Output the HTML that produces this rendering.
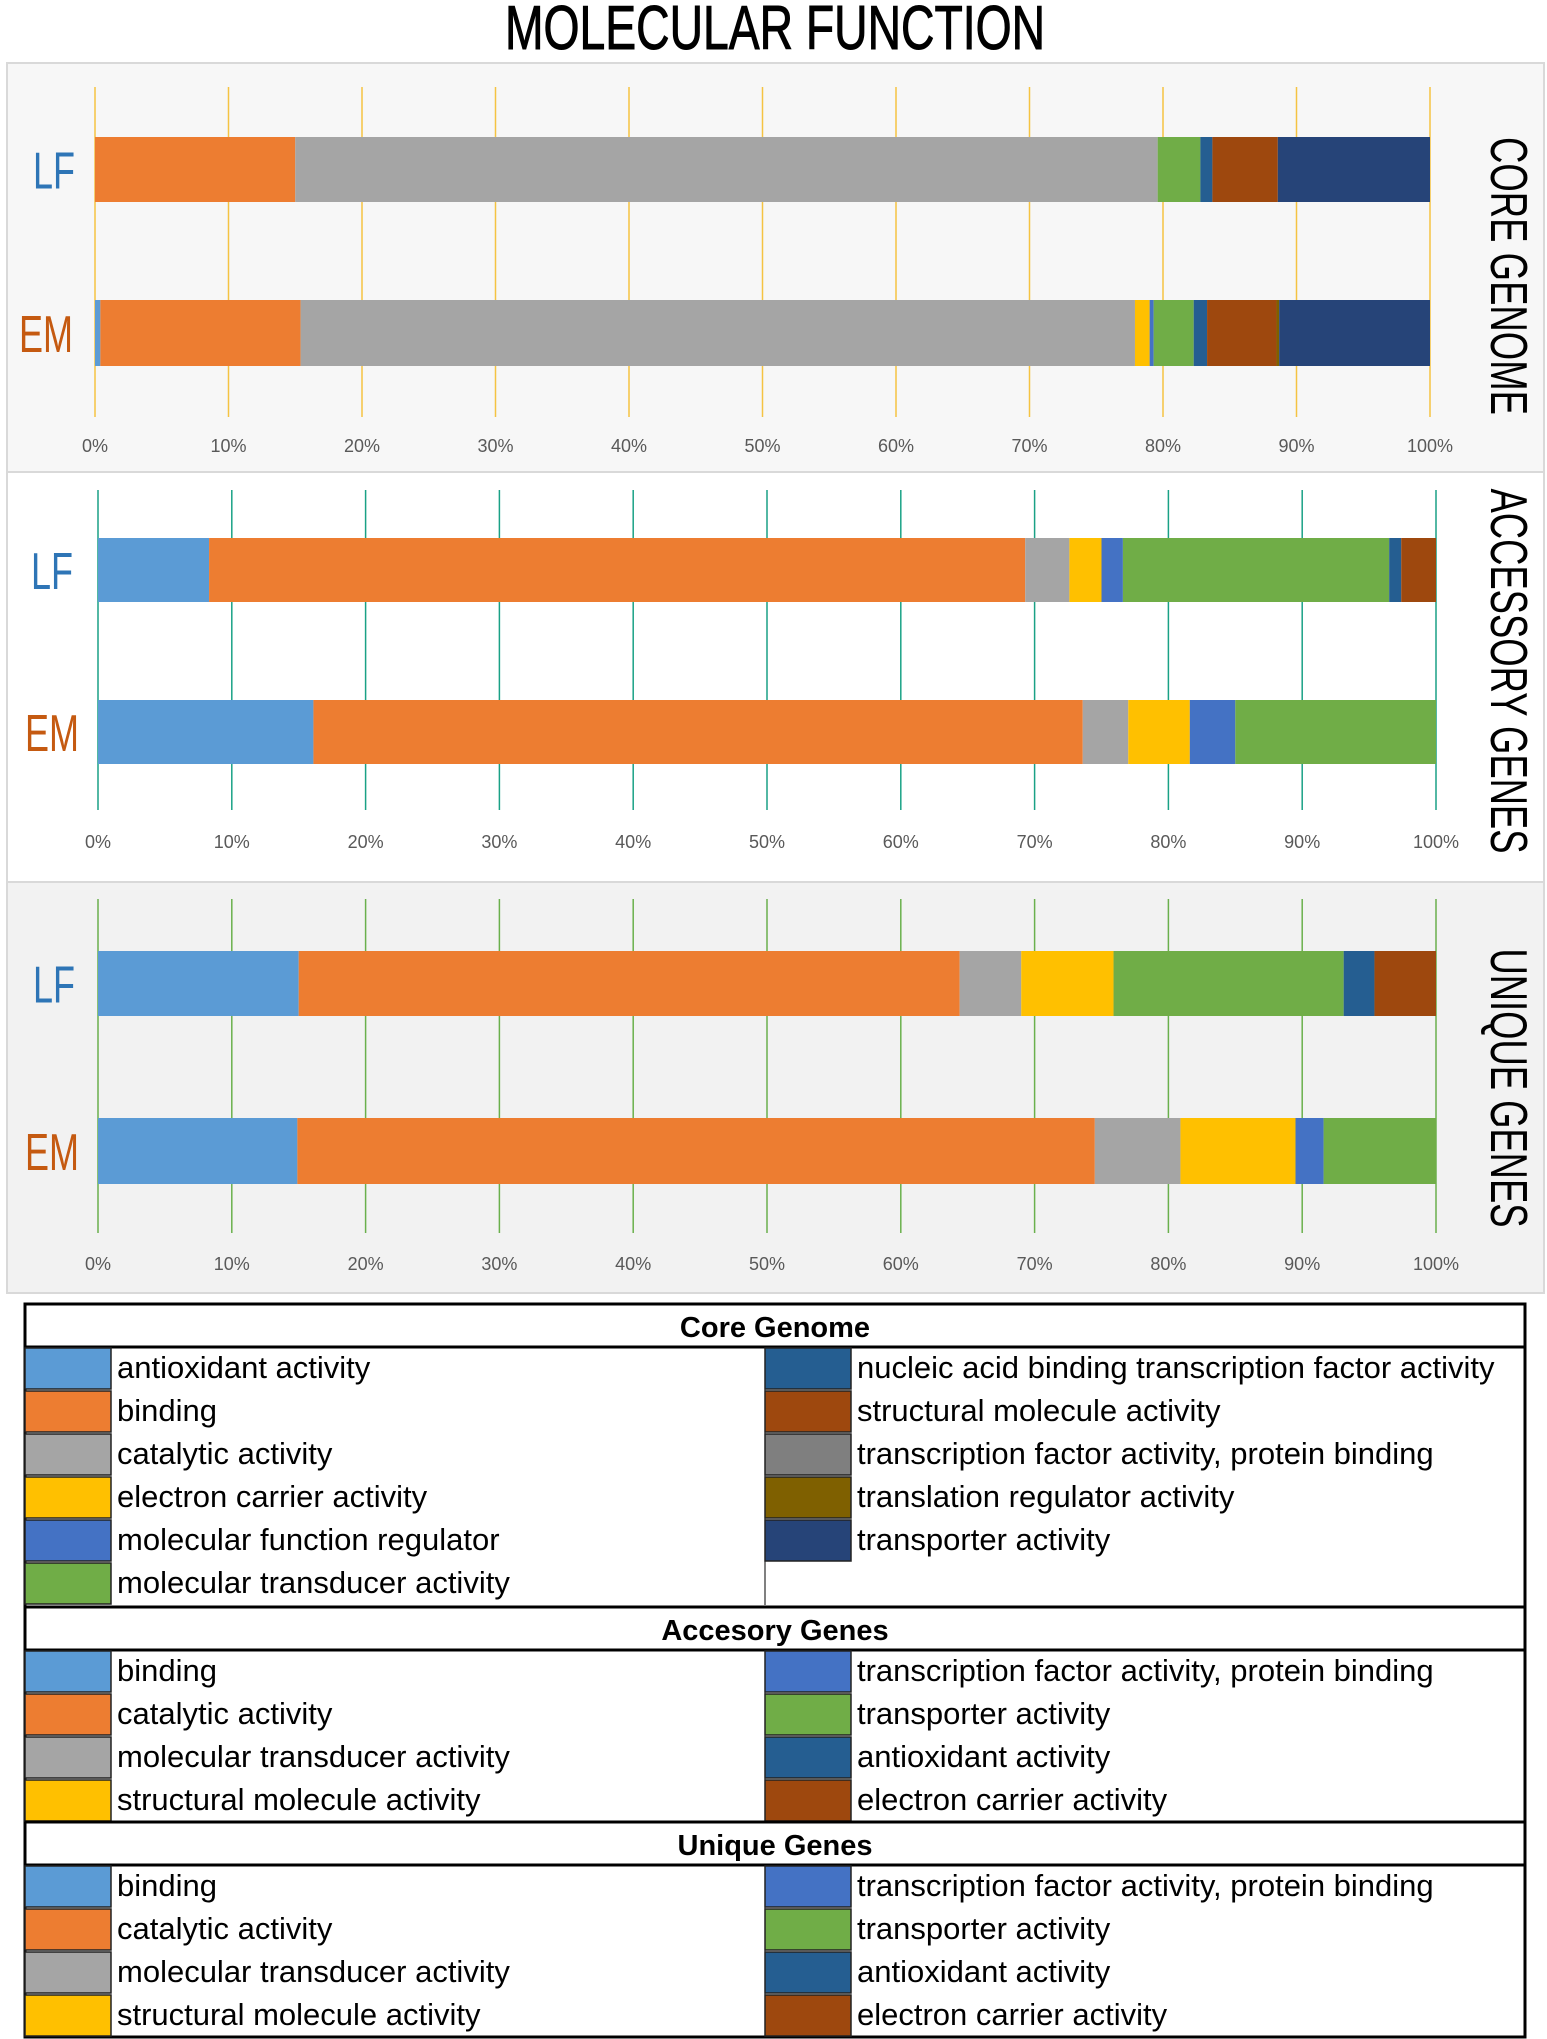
<!DOCTYPE html>
<html><head><meta charset="utf-8"><style>
html,body{margin:0;padding:0;background:#fff;}
svg{display:block;font-family:"Liberation Sans",sans-serif;}
</style></head><body>
<svg id="fig" width="1547" height="2039" viewBox="0 0 1547 2039" xmlns="http://www.w3.org/2000/svg">
<text x="775" y="49" text-anchor="middle" font-size="62" textLength="540" lengthAdjust="spacingAndGlyphs" fill="#000" stroke="#000" stroke-width="1">MOLECULAR FUNCTION</text>
<g id="panels"></g>
<g id="legend"></g>
</svg>
<script>
const tickLabels = ["0%","10%","20%","30%","40%","50%","60%","70%","80%","90%","100%"];
const rowLabels = ["LF","EM"];
const colors = {anti:"#5b9bd5",bind:"#ed7d31",cat:"#a5a5a5",elec:"#ffc000",mfr:"#4472c4",trd:"#70ad47",nuc:"#255e91",str:"#9e480e",tfp:"#7f7f7f",trl:"#7f6000",trn:"#264478"};
// Core genome
const coreKeys = ["anti","bind","cat","elec","mfr","trd","nuc","str","tfp","trl","trn"];
const coreLF = [0,15.0,64.6,0,0,3.2,0.9,4.9,0,0,11.4];
const coreEM = [0.4,15.0,62.5,1.1,0.3,3.0,1.0,5.2,0,0.2,11.3];
// Accessory genes
const accKeys = ["anti","bind","cat","elec","mfr","trd","nuc","str"];
const accLF = [8.3,61.0,3.3,2.4,1.6,19.9,0.9,2.6];
const accEM = [16.1,57.5,3.4,4.6,3.4,15.0,0,0];
// Unique genes
const uniKeys = ["anti","bind","cat","elec","mfr","trd","nuc","str"];
const uniLF = [15.0,49.4,4.6,6.9,0,17.2,2.3,4.6];
const uniEM = [14.9,59.6,6.4,8.6,2.1,8.4,0,0];

const NS="http://www.w3.org/2000/svg";
function el(tag,attrs,parent){const e=document.createElementNS(NS,tag);for(const k in attrs)e.setAttribute(k,attrs[k]);if(parent)parent.appendChild(e);return e;}
const panelsG=document.getElementById('panels');
const panels=[
 {name:"core-genome",title:"CORE GENOME",y0:63,y1:472,bg:"#f7f7f7",grid:"#f5c342",x0:95,x1:1430,gy0:87,gy1:417,bars:[[137,202],[300,366]],tickY:452,keys:coreKeys,data:[coreLF,coreEM],titleLen:278,tc:276},
 {name:"accessory-genes",title:"ACCESSORY GENES",y0:472,y1:882,bg:"#ffffff",grid:"#1aa186",x0:98,x1:1436,gy0:490,gy1:810,bars:[[538,602],[700,764]],tickY:848,keys:accKeys,data:[accLF,accEM],titleLen:365,tc:671},
 {name:"unique-genes",title:"UNIQUE GENES",y0:882,y1:1293,bg:"#f2f2f2",grid:"#6ab04c",x0:98,x1:1436,gy0:899,gy1:1233,bars:[[951,1016],[1118,1184]],tickY:1270,keys:uniKeys,data:[uniLF,uniEM],titleLen:279,tc:1088}
];
panels.forEach(p=>{
 const g=el('g',{},panelsG);
 
 
 el('rect',{x:7,y:p.y0,width:1537,height:p.y1-p.y0,fill:p.bg,stroke:"#d9d9d9","stroke-width":2},g);
 const xs=v=>p.x0+(p.x1-p.x0)*v/100;
 tickLabels.forEach((t,i)=>{
  const v=i*10;
  const gl=el('line',{x1:xs(v),x2:xs(v),y1:p.gy0,y2:p.gy1,stroke:p.grid,"stroke-width":1.5},g);
  
  
  const tl=el('text',{x:xs(v),y:p.tickY,"text-anchor":"middle","font-size":18,fill:"#595959"},g);
  tl.textContent=t;
  
  
 });
 p.data.forEach((series,ri)=>{
  const [by0,by1]=p.bars[ri];
  let acc=0;
  series.forEach((v,si)=>{
   if(v<=0)return;
   const r=el('rect',{x:xs(acc),y:by0,width:xs(acc+v)-xs(acc),height:by1-by0,fill:colors[p.keys[si]]},g);
   
   
   acc+=v;
  });
  const lbl=el('text',{x:ri==0?(p.name=="accessory-genes"?31:33):(p.name=="core-genome"?19:25),y:(by0+by1)/2+19,"font-size":52,textLength:ri==0?42:54,lengthAdjust:"spacingAndGlyphs",fill:ri==0?"#2e75b6":"#c55a11"},g);
  lbl.textContent=rowLabels[ri];
  
  
 });
 const tt=el('text',{x:0,y:0,"text-anchor":"middle","font-size":52,textLength:p.titleLen,lengthAdjust:"spacingAndGlyphs",fill:"#000",transform:`translate(1491,${p.tc}) rotate(90)`},g);
 tt.textContent=p.title;
 
 
});

// Legend
const legendSections=[
 {name:"core-genome",title:"Core Genome",y:1304,left:[["anti","antioxidant activity"],["bind","binding"],["cat","catalytic activity"],["elec","electron carrier activity"],["mfr","molecular function regulator"],["trd","molecular transducer activity"]],
  right:[["nuc","nucleic acid binding transcription factor activity"],["str","structural molecule activity"],["tfp","transcription factor activity, protein binding"],["trl","translation regulator activity"],["trn","transporter activity"]],rows:6},
 {name:"accessory-genes",title:"Accesory Genes",y:1607,left:[["anti","binding"],["bind","catalytic activity"],["cat","molecular transducer activity"],["elec","structural molecule activity"]],
  right:[["mfr","transcription factor activity, protein binding"],["trd","transporter activity"],["nuc","antioxidant activity"],["str","electron carrier activity"]],rows:4},
 {name:"unique-genes",title:"Unique Genes",y:1822,left:[["anti","binding"],["bind","catalytic activity"],["cat","molecular transducer activity"],["elec","structural molecule activity"]],
  right:[["mfr","transcription factor activity, protein binding"],["trd","transporter activity"],["nuc","antioxidant activity"],["str","electron carrier activity"]],rows:4}
];
const lg=document.getElementById('legend');
const RH=43, HH=43;
el('rect',{x:25,y:1304,width:1500,height:733,fill:"#fff",stroke:"#000","stroke-width":3},lg);
legendSections.forEach(s=>{
 const g=el('g',{},lg);
 
 
 const h=el('text',{x:775,y:s.y+33,"text-anchor":"middle","font-size":29,"font-weight":"bold",fill:"#000"},g);
 h.textContent=s.title;
 
 
 const top=s.y+HH;
 el('line',{x1:25,x2:1525,y1:top,y2:top,stroke:"#000","stroke-width":3},g);
 el('line',{x1:25,x2:1525,y1:s.y,y2:s.y,stroke:"#000","stroke-width":3},g);
 el('line',{x1:765,x2:765,y1:top,y2:top+RH*s.rows,stroke:"#000","stroke-width":1},g);
 [[s.left,25,117],[s.right,765,857]].forEach(([items,sx,tx])=>{
  items.forEach((it,i)=>{
   const y=top+i*RH;
   const sw=el('rect',{x:sx,y:y+1,width:86,height:RH-2,fill:colors[it[0]],stroke:"#222","stroke-width":1.5},g);
   
   
   const t=el('text',{x:0,y:0,"font-size":31,fill:"#000",transform:`translate(${tx},${y+31}) scale(1.0,1)`},g);
   t.textContent=it[1];
   
   
  });
 });
});
</script>
</body></html>
